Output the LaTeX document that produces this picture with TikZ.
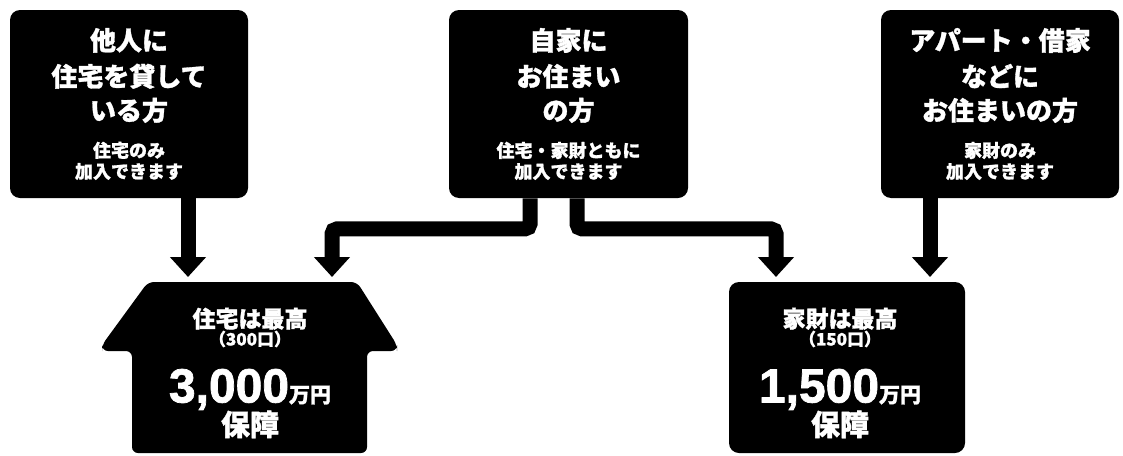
\documentclass[tikz,border=0pt]{standalone}
\usepackage{fontspec}
\usetikzlibrary{arrows.meta,calc}
\newfontfamily\jp{Noto Sans CJK JP}[BoldFeatures={FakeBold=1.2}]
\newfontfamily\numfont{Liberation Sans}[BoldFeatures={FakeBold=1.5}]
\newcommand{\headfont}{\jp\bfseries\fontsize{13}{15.5}\selectfont}
\newcommand{\notefont}{\jp\bfseries\fontsize{9}{11}\selectfont}
\newcommand{\sumfont}{\jp\bfseries\fontsize{11.5}{20}\selectfont}
\newcommand{\unitsfont}{\jp\bfseries\fontsize{8.5}{10}\selectfont}
\newcommand{\guarfont}{\jp\bfseries\fontsize{14.5}{16}\selectfont}
\newcommand{\amount}[1]{{\numfont\bfseries\fontsize{24}{24}\selectfont #1}{\jp\bfseries\fontsize{10.5}{12}\selectfont 万円}}

\begin{document}
\begin{tikzpicture}[x=0.5pt,y=-0.5pt,
  card/.style={rectangle,fill=black,text=white,rounded corners=5pt,align=center,inner sep=0pt,font=\headfont},
  info/.style={text=white,align=center,inner sep=0pt,font=\sumfont},
  bigarrow/.style={line width=7.5pt,-{Triangle[length=10pt,width=17.5pt]},rounded corners=2.5pt}]
\useasboundingbox (0,0) rectangle (1123,455);

% who can join
\node[card,minimum width=119pt,minimum height=94pt] (tenant) at (129,104)
  {他人に\\[2.5pt]住宅を貸して\\[1.5pt]いる方\\[3pt]{\notefont 住宅のみ}\\[-5pt]{\notefont 加入できます}};
\node[card,minimum width=119.5pt,minimum height=94pt] (owner) at (568.5,104)
  {自家に\\[2.5pt]お住まい\\[1.5pt]の方\\[3pt]{\notefont 住宅・家財ともに}\\[-5pt]{\notefont 加入できます}};
\node[card,minimum width=119pt,minimum height=94pt] (renter) at (1000,104)
  {アパート・借家\\[2.5pt]などに\\[1.5pt]お住まいの方\\[3pt]{\notefont 家財のみ}\\[-5pt]{\notefont 加入できます}};

% house and goods
\fill[rounded corners=3pt] (148,282) -- (357,282) -- (397,345) -- (397,351) -- (367,351)
  -- (367,453) -- (132,453) -- (132,351) -- (102,351) -- (102,345) -- cycle;
\node[card,minimum width=118pt,minimum height=85.5pt] (goods) at (847,367.5) {};

\node[info] (house) at (250,373)
  {住宅は最高\\[-11pt]{\unitsfont （300口）}\\[8.5pt]\amount{3,000}\\[-3.5pt]{\guarfont 保障}};
\node[info] (goodsinfo) at ($(goods.center)+(-7,5.5)$)
  {家財は最高\\[-11pt]{\unitsfont （150口）}\\[8.5pt]\amount{1,500}\\[-3.5pt]{\guarfont 保障}};

\coordinate (t1) at (188,277);
\coordinate (t2) at (332,277);
\coordinate (t3) at (776,277);
\coordinate (t4) at (930,277);

\draw[bigarrow] (tenant.south -| t1) -- (t1);
\draw[bigarrow] ($(owner.south)+(-38.5,0)$) -- ++(0,30.5) -| (t2);
\draw[bigarrow] ($(owner.south)+(8.5,0)$) -- ++(0,30.5) -| (t3);
\draw[bigarrow] (renter.south -| t4) -- (t4);
\end{tikzpicture}
\end{document}
